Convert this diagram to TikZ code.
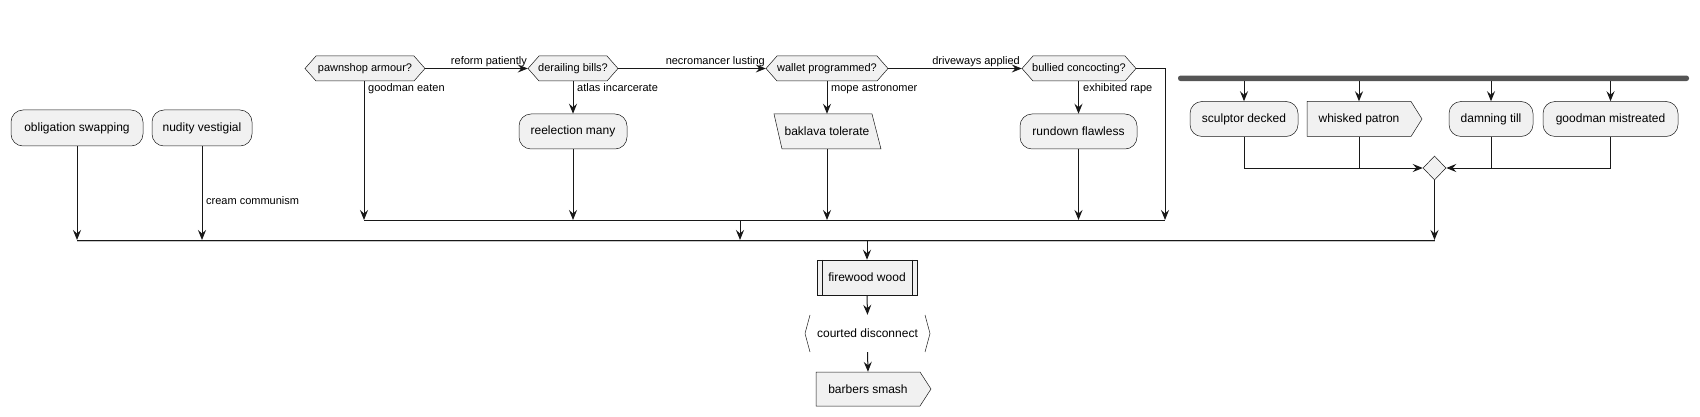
\documentclass[tikz,border=0pt]{standalone}
\usepackage{fontspec}
\setmainfont{Liberation Sans}
\usetikzlibrary{arrows.meta,shapes.geometric}
\definecolor{boxfill}{HTML}{F1F1F1}
\definecolor{linec}{HTML}{181818}
\definecolor{barc}{HTML}{555555}
\tikzset{
  conn/.style={draw=linec, line width=1pt},
  arr/.style={conn, -{Stealth[length=10pt,width=8pt,inset=3.5pt]}},
  outline/.style={draw=linec, line width=0.5pt, fill=boxfill},
  txteleven/.style={font=\fontsize{11}{13}\selectfont, inner sep=0pt},
  txttwelve/.style={font=\fontsize{12}{14}\selectfont, inner sep=0pt},
  rbox/.style={outline, txttwelve, rounded corners=12pt, minimum height=35pt},
  lbl/.style={txteleven, anchor=base west},
  lble/.style={txteleven, anchor=base east},
}
\newcommand\hexnode[5]{%
  \draw[outline] ({#2-#4},#3) -- ({#2-#4+11},{#3-12.5}) -- ({#2+#4-11},{#3-12.5}) -- ({#2+#4},#3) -- ({#2+#4-11},{#3+12.5}) -- ({#2-#4+11},{#3+12.5}) -- cycle;
  \node[txteleven, minimum width=#4*2pt, minimum height=25pt] (#1) at (#2,#3) {#5};
}
\begin{document}
\begin{tikzpicture}[x=1pt,y=-1pt]
\useasboundingbox (0,0) rectangle (1700,417);

% left boxes
\node[rbox, minimum width=132pt, minimum height=36pt] (obl) at (77,128) {obligation swapping};
\node[rbox, minimum width=100pt, minimum height=36pt] (nud) at (202,128) {nudity vestigial};

% decisions
\hexnode{pawn}{365}{68.5}{60}{pawnshop armour?}
\hexnode{derail}{573}{68.5}{45}{derailing bills?}
\hexnode{wallet}{827}{68.5}{61}{wallet programmed?}
\hexnode{bull}{1079}{68.5}{57}{bullied concocting?}

% activities under decisions
\node[rbox, minimum width=108pt] (reel) at (573,131.5) {reelection many};
\draw[outline] (774,114) -- (872,114) -- (881,149) -- (782,149) -- cycle;
\node[txttwelve, minimum width=100pt, minimum height=35pt] (bakl) at (827,131.5) {baklava tolerate};
\node[rbox, minimum width=117pt] (rund) at (1078.5,131.5) {rundown flawless};

% fork
\node[fill=barc, rounded corners=2.5pt, minimum width=511pt, minimum height=5.5pt, inner sep=0pt] (fork) at (1433.5,78.3) {};
\node[rbox, minimum width=108pt] (sculp) at (1244,119) {sculptor decked};
\draw[outline] (1307,101.5) -- (1411,101.5) -- (1422,119) -- (1411,136.5) -- (1307,136.5) -- cycle;
\node[txttwelve, minimum width=104pt, minimum height=35pt] (whisk) at (1359,119) {whisked patron};
\node[rbox, minimum width=84pt] (damn) at (1491,119) {damning till};
\node[rbox, minimum width=135pt] (goodm) at (1610.5,119) {goodman mistreated};
\node[outline, diamond, minimum width=23pt, minimum height=24pt, inner sep=0pt] (mrg) at (1434.5,168) {};

% bottom chain
\node[outline, txttwelve, minimum width=100pt, minimum height=35pt] (fire) at (867,277.5) {firewood wood};
\draw[linec, line width=0.5pt] ([xshift=5pt]fire.north west) -- ([xshift=5pt]fire.south west);
\draw[linec, line width=0.5pt] ([xshift=-5pt]fire.north east) -- ([xshift=-5pt]fire.south east);
\draw[linec, line width=0.5pt] (810,315) -- (805,333.5) -- (810,352);
\draw[linec, line width=0.5pt] (925,315) -- (930,333.5) -- (925,352);
\node[txttwelve, minimum width=125pt, minimum height=37pt] (court) at (867.5,333.5) {courted disconnect};
\draw[outline] (816,372) -- (920,372) -- (931,389) -- (920,406) -- (816,406) -- cycle;
\node[txttwelve, minimum width=104pt, minimum height=34pt] (barb) at (868,389) {barbers smash};

% bars
\coordinate (bara) at (364,220);
\coordinate (barb1) at (1165,220);
\coordinate (outa) at (77,240);
\coordinate (outb) at (1434.5,240);
\coordinate (jin) at (740,220);
\coordinate (jout) at (740,240);
\coordinate (jdown) at (867,240);
\draw[conn] (bara) -- (barb1);
\draw[line width=2pt, draw=black!22] ([yshift=-1.2pt]outa) -- ([yshift=-1.2pt]outb);
\draw[conn] (outa) -- (outb);

% connectors
\draw[arr] (obl.south) -- (obl.south |- outa);
\draw[arr] (nud.south) -- (nud.south |- outa);
\node[lbl] (lcream) at (206,204) {cream communism};

\draw[arr] (pawn.east) -- (derail.west);
\node[lble] (lreform) at (527,65) {reform patiently};
\draw[arr] (pawn.south -| bara) -- (bara);
\node[lbl] (lgood) at (368,91.5) {goodman eaten};

\draw[arr] (derail.south) -- (reel.north);
\node[lbl] (latlas) at (577,91.5) {atlas incarcerate};
\draw[arr] (reel.south) -- (reel.south |- bara);

\draw[arr] (derail.east) -- (wallet.west);
\node[lble] (lnecro) at (765,65) {necromancer lusting};
\draw[arr] (wallet.south) -- (bakl.north);
\node[lbl] (lmope) at (831,91.5) {mope astronomer};
\draw[arr] (bakl.south) -- (bakl.south |- bara);

\draw[arr] (wallet.east) -- (bull.west);
\node[lble] (ldrive) at (1020,65) {driveways applied};
\draw[arr] (bull.south -| rund.north) -- (rund.north);
\node[lbl] (lexh) at (1083,91.5) {exhibited rape};
\draw[arr] (rund.south) -- (rund.south |- bara);
\draw[arr] (bull.east) -| (barb1);

\draw[arr] (jin) -- (jout);

\draw[arr] (fork.south -| sculp.north) -- (sculp.north);
\draw[arr] (fork.south -| whisk.north) -- (whisk.north);
\draw[arr] (fork.south -| damn.north) -- (damn.north);
\draw[arr] (fork.south -| goodm.north) -- (goodm.north);
\draw[arr] (sculp.south) |- (mrg.west);
\draw[conn] (whisk.south) -- (whisk.south |- mrg.west);
\draw[arr] (goodm.south) |- (mrg.east);
\draw[conn] (damn.south) -- (damn.south |- mrg.east);
\draw[arr] (mrg.south) -- (outb);

\draw[arr] (jdown) -- (fire.north);
\draw[arr] (fire.south) -- (court.north);
\draw[arr] (court.south) -- (barb.north);
\end{tikzpicture}
\end{document}
